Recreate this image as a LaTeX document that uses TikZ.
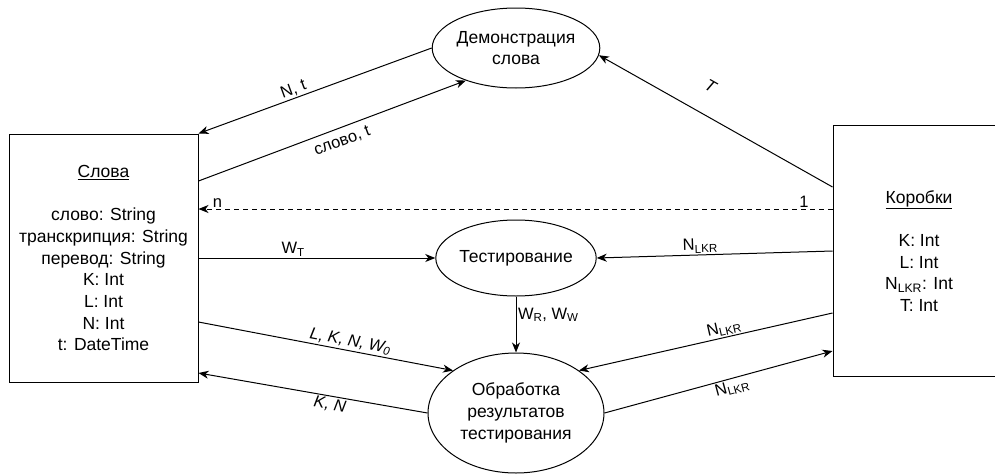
\documentclass[tikz,border=0pt]{standalone}
\usepackage{fontspec}
\setmainfont{Liberation Sans}
\usetikzlibrary{shapes.geometric,arrows.meta}
\begin{document}
\begin{tikzpicture}[x=1pt,y=-1pt,
  font=\fontsize{17.5}{21.7}\selectfont,
  box/.style={draw, line width=1pt, rectangle, inner sep=0pt, align=center},
  proc/.style={draw, line width=1pt, ellipse, inner sep=0pt, align=center},
  flow/.style={line width=1pt, -{Stealth[length=10pt,width=8pt,inset=3pt]}},
  lbl/.style={font=\fontsize{16.5}{19}\selectfont, inner sep=1.5pt}]
\useasboundingbox (0,0) rectangle (995,474);
\clip (0,0) rectangle (995,474);

\node[box, minimum width=189pt, minimum height=248pt] (slova) at (103.5,258)
  {\underline{Слова}\\[21.7pt]слово: String\\транскрипция: String\\перевод: String\\K: Int\\L: Int\\N: Int\\t: DateTime};
\node[box, minimum width=172pt, minimum height=251pt] (korobki) at (919,251)
  {\underline{Коробки}\\[21.7pt]K: Int\\L: Int\\N\textsubscript{LKR}: Int\\T: Int};

\node[proc, minimum width=146pt, minimum height=80pt] (demo) at (516,48) {Демонстрация\\слова};
\node[proc, minimum width=140pt, minimum height=76pt] (test) at (516,258) {Тестирование};
\node[proc, minimum width=176pt, minimum height=120pt] (obr) at (516,413) {Обработка\\результатов\\тестирования};

\draw[flow] (demo.west) -- node[lbl, sloped, above, pos=0.58] {N, t} (slova.north east);
\draw[flow] ([yshift=77pt]slova.east) -- node[lbl, sloped, below=5pt, pos=0.52] {слово, t} (demo.213);
\draw[flow] ([yshift=64pt]korobki.west) -- node[lbl, sloped, above=20pt, pos=0.58] {\itshape T} (demo.-5);
\draw[flow, dash pattern=on 5pt off 4pt] ([yshift=42pt]korobki.west) --
  node[lbl, pos=0.045, above] {1} node[lbl, pos=0.97, above] {n} ([yshift=49pt]slova.east);
\draw[flow] (slova.east) -- node[lbl, above, pos=0.4] {W\textsubscript{T}} (test.west);
\draw[flow] (korobki.west) -- node[lbl, sloped, above, pos=0.56] {N\textsubscript{LKR}} (test.east);
\draw[flow] (test.south) -- node[lbl, right, pos=0.33] {W\textsubscript{R}, W\textsubscript{W}} (obr.north);
\draw[flow] ([yshift=-64pt]slova.east) -- node[lbl, sloped, above, pos=0.59] {\itshape L, K, N, W\textsubscript{0}} (obr.146);
\draw[flow] (obr.west) -- node[lbl, sloped, below, pos=0.42] {\itshape K, N} ([yshift=-115pt]slova.east);
\draw[flow] ([yshift=-62pt]korobki.west) -- node[lbl, sloped, above, pos=0.42] {N\textsubscript{LKR}} (obr.34);
\draw[flow] (obr.east) -- node[lbl, sloped, below, pos=0.55] {N\textsubscript{LKR}} ([yshift=-100pt]korobki.west);
\end{tikzpicture}
\end{document}
